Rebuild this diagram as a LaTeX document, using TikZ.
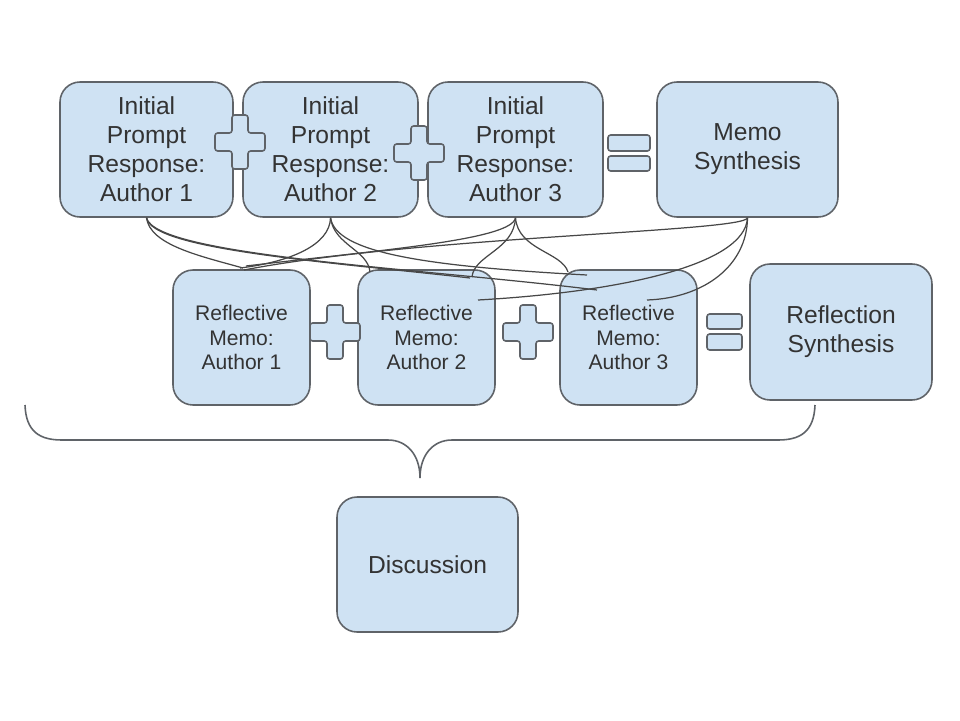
\documentclass[tikz,border=0pt]{standalone}
\usepackage{fontspec}
\setmainfont{Liberation Sans}
\definecolor{boxfill}{HTML}{CFE2F3}
\definecolor{edgecol}{HTML}{5F6368}
\definecolor{txtcol}{HTML}{333333}
\definecolor{linecol}{HTML}{474747}
\newcommand\crossat[2]{%
  \draw[signstyle, shift={(#1,#2)}] (-8,-27) -- (8,-27) -- (8,-9) -- (25,-9) -- (25,9) -- (8,9) -- (8,27) -- (-8,27) -- (-8,9) -- (-25,9) -- (-25,-9) -- (-8,-9) -- cycle;}
\tikzset{
  box/.style={draw=edgecol, line width=0.9pt, fill=boxfill, rounded corners=0.4cm,
    align=center, inner sep=0pt, text=txtcol, minimum height=2.7cm},
  bigtxt/.style={font=\fontsize{14}{16.5}\selectfont},
  smalltxt/.style={font=\fontsize{12}{14.2}\selectfont},
  signstyle/.style={draw=edgecol, line width=0.9pt, fill=boxfill, rounded corners=1.5pt},
  link/.style={draw=linecol, line width=0.7pt},
  brace/.style={draw=edgecol, line width=0.9pt}
}
\begin{document}
\begin{tikzpicture}[x=0.02cm,y=-0.02cm]
\useasboundingbox[fill=white] (0,0) rectangle (960,720);

% top row
\node[box,bigtxt,minimum width=3.46cm] (A1) at (146.5,149.5) {Initial\\Prompt\\Response:\\Author 1};
\node[box,bigtxt,minimum width=3.50cm] (A2) at (330.5,149.5) {Initial\\Prompt\\Response:\\Author 2};
\node[box,bigtxt,minimum width=3.50cm] (A3) at (515.5,149.5) {Initial\\Prompt\\Response:\\Author 3};
\node[box,bigtxt,minimum width=3.62cm] (MS) at (747.5,149.5) {Memo\\Synthesis};

% second row
\node[box,smalltxt,minimum width=2.74cm] (R1) at (241.5,337.5) {Reflective\\Memo:\\Author 1};
\node[box,smalltxt,minimum width=2.74cm] (R2) at (426.5,337.5) {Reflective\\Memo:\\Author 2};
\node[box,smalltxt,minimum width=2.74cm] (R3) at (628.5,337.5) {Reflective\\Memo:\\Author 3};
\node[box,bigtxt,minimum width=3.64cm,minimum height=2.72cm] (RS) at (841,332) {Reflection\\Synthesis};

% discussion
\node[box,bigtxt,minimum width=3.62cm] (DI) at (427.5,564.5) {Discussion};

% plus and equals signs
\crossat{240}{142}
\crossat{419}{153}
\crossat{335}{332}
\crossat{528}{332}
\draw[signstyle] (608,135) rectangle (650,151);
\draw[signstyle] (608,156) rectangle (650,171);
\draw[signstyle] (707,314) rectangle (742,329);
\draw[signstyle] (707,334) rectangle (742,350);

% end points of the links
\coordinate (t11) at (243,268);
\coordinate (t12) at (470,278);
\coordinate (t13) at (597,290);
\coordinate (t21) at (240,268);
\coordinate (t22) at (370,272);
\coordinate (t23) at (587,275);
\coordinate (t31) at (246,266);
\coordinate (t32) at (472,277);
\coordinate (t33) at (568,272);
\coordinate (t41) at (244,270);
\coordinate (t42) at (478,300);
\coordinate (t43) at (647,300);

% links from Author 1
\draw[link] (A1.south) .. controls (150,245) and (200,256) .. (t11);
\draw[link] (A1.south) .. controls (152,250) and (330,262) .. (t12);
\draw[link] (A1.south) .. controls (156,256) and (420,268) .. (t13);
% links from Author 2
\draw[link] (A2.south) .. controls (330,245) and (290,262) .. (t21);
\draw[link] (A2.south) .. controls (334,245) and (368,250) .. (t22);
\draw[link] (A2.south) .. controls (336,252) and (420,266) .. (t23);
% links from Author 3
\draw[link] (A3.south) .. controls (512,240) and (380,250) .. (t31);
\draw[link] (A3.south) .. controls (514,250) and (474,255) .. (t32);
\draw[link] (A3.south) .. controls (518,250) and (562,252) .. (t33);
% links from Memo Synthesis
\draw[link] (MS.south) .. controls (745,232) and (420,236) .. (t41);
\draw[link] (MS.south) .. controls (745,265) and (620,292) .. (t42);
\draw[link] (MS.south) .. controls (747,265) and (705,298) .. (t43);

% brace
\coordinate (bl) at (25,405);
\coordinate (btip) at (420,478);
\coordinate (br) at (815,405);
\draw[brace] (bl) .. controls (26,432) and (40,440) .. (62,440) -- (388,440)
  .. controls (407,440) and (420,455) .. (btip)
  .. controls (420,455) and (433,440) .. (452,440) -- (778,440)
  .. controls (800,440) and (814,432) .. (br);
\end{tikzpicture}
\end{document}
